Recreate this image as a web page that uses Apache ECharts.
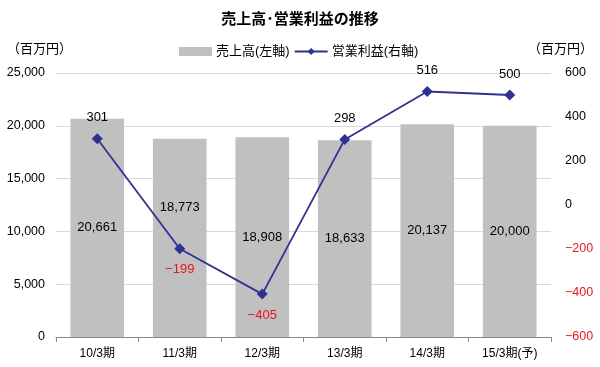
<!DOCTYPE html>
<html><head><meta charset="utf-8">
<script src="https://cdn.jsdelivr.net/npm/echarts@6/dist/echarts.min.js"></script>
<style>html,body{margin:0;padding:0;background:#fff}#c{width:600px;height:367px}</style>
</head><body><div id="c"></div>
<script>
var categories = ['10/3期','11/3期','12/3期','13/3期','14/3期','15/3期(予)'];
var sales = [20661, 18773, 18908, 18633, 20137, 20000];
var profit = [301, -199, -405, 298, 516, 500];
var leftTicks = [0, 5000, 10000, 15000, 20000, 25000];
var rightTicks = [-600, -400, -200, 0, 200, 400, 600];

var FONT = '"Liberation Sans", Arial, "Noto Sans CJK JP", sans-serif';
var RED = '#e8161f';
function fmt(v){ return (v<0?'\u2212':'') + Math.abs(v).toString().replace(/\B(?=(\d{3})+(?!\d))/g, ','); }

var barData = sales.map(function(v, i){
  var d = {value: v};
  if (i === 1) d.label = {offset: [0, -30]};
  return d;
});
var lineData = profit.map(function(v){
  return {value: v, label: {position: v < 0 ? 'bottom' : 'top', color: v < 0 ? RED : '#000'}};
});

var chart = echarts.init(document.getElementById('c'), null, {renderer: 'canvas'});
chart.setOption({
  animation: false,
  textStyle: {fontFamily: FONT},
  title: [
    {text: '売上高･営業利益の推移', left: 'center', top: 7, textStyle: {fontSize: 15, fontWeight: 'bold', color: '#000', fontFamily: FONT}},
    {text: '（百万円）', left: 2, top: 38, textStyle: {fontSize: 13, fontWeight: 'normal', color: '#000', fontFamily: FONT}},
    {text: '（百万円）', right: 2, top: 38, textStyle: {fontSize: 13, fontWeight: 'normal', color: '#000', fontFamily: FONT}}
  ],
  legend: {
    left: 174, top: 40, itemGap: 4, itemWidth: 33, itemHeight: 9,
    textStyle: {fontSize: 13, color: '#000', fontFamily: FONT, padding: [0, 0, 0, -1]},
    data: [{name: '売上高(左軸)', icon: 'rect'}, {name: '営業利益(右軸)'}]
  },
  grid: {left: 56, right: 49, top: 73, bottom: 30},
  xAxis: {
    type: 'category', data: categories,
    axisLine: {lineStyle: {color: '#888', width: 1.2}},
    axisTick: {show: true, length: 5, lineStyle: {color: '#888'}},
    axisLabel: {color: '#000', fontSize: 12, margin: 11, fontFamily: FONT}
  },
  yAxis: [
    {type: 'value', min: leftTicks[0], max: leftTicks[leftTicks.length-1], interval: 5000,
     axisLine: {show: false}, axisTick: {show: false},
     axisLabel: {color: '#000', fontSize: 12.5, margin: 11, formatter: fmt, fontFamily: FONT},
     splitLine: {lineStyle: {color: '#d9d9d9', width: 1}}},
    {type: 'value', min: rightTicks[0], max: rightTicks[rightTicks.length-1], interval: 200,
     axisLine: {show: false}, axisTick: {show: false}, splitLine: {show: false},
     axisLabel: {fontSize: 12.5, margin: 14, formatter: fmt, fontFamily: FONT,
       color: function(v){ return v < 0 ? RED : '#000'; }}}
  ],
  series: [
    {name: '売上高(左軸)', type: 'bar', yAxisIndex: 0, data: barData, barCategoryGap: '35%',
     itemStyle: {color: '#c0c0c0'},
     label: {show: true, position: 'inside', color: '#000', fontSize: 13, formatter: function(p){ return fmt(p.value); }, fontFamily: FONT}},
    {name: '営業利益(右軸)', type: 'line', yAxisIndex: 1, data: lineData,
     symbol: 'diamond', symbolSize: 11, z: 5,
     lineStyle: {color: '#2e3192', width: 1.8}, itemStyle: {color: '#2e3192'},
     label: {show: true, distance: 9, fontSize: 13, formatter: function(p){ return fmt(p.value); }, fontFamily: FONT}}
  ]
});
</script></body></html>
